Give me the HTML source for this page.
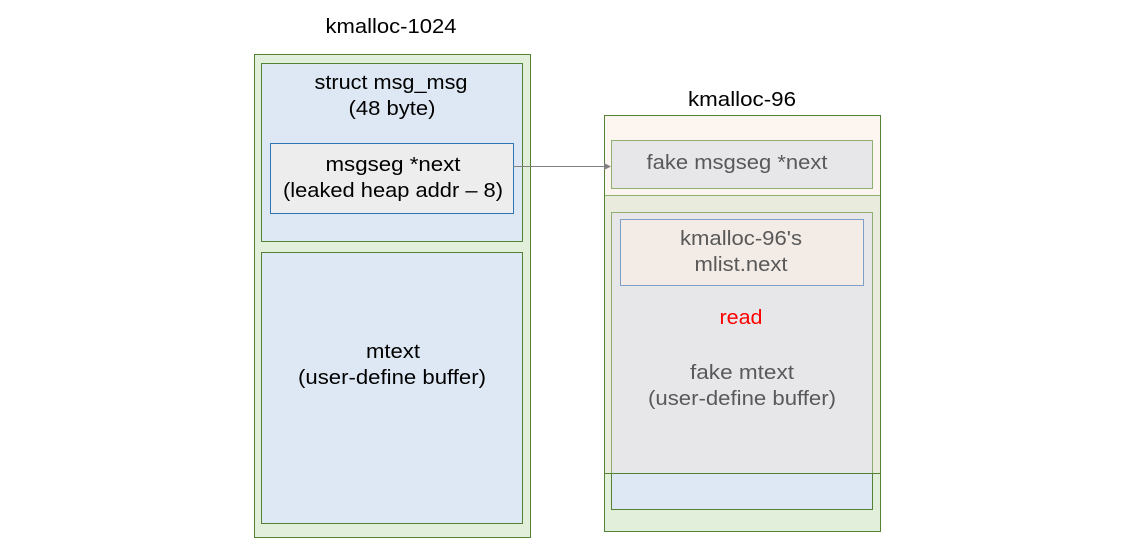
<!DOCTYPE html>
<html><head><style>body{margin:0;background:#fff}svg{display:block}text{font-family:"Liberation Sans","Noto Sans CJK KR",sans-serif;font-size:20px;text-anchor:middle}</style></head><body>
<svg width="1132" height="554" xmlns="http://www.w3.org/2000/svg">
<rect width="1132" height="554" fill="#fff"/>
<text x="391" y="33" fill="#000" textLength="131" lengthAdjust="spacingAndGlyphs">kmalloc-1024</text>
<rect x="254.5" y="54.5" width="276" height="483" fill="#e2efda" stroke="#548235"/>
<rect x="261.5" y="63.5" width="261" height="178" fill="#dee8f4" stroke="#548235"/>
<text x="391" y="89" fill="#000" textLength="153" lengthAdjust="spacingAndGlyphs">struct msg_msg</text>
<text x="392" y="115" fill="#000" textLength="87" lengthAdjust="spacingAndGlyphs">(48 byte)</text>
<rect x="270.5" y="143.5" width="243" height="70" fill="#ededed" stroke="#2e75b6"/>
<text x="393" y="171" fill="#000" textLength="135" lengthAdjust="spacingAndGlyphs">msgseg *next</text>
<text x="393" y="197" fill="#000" textLength="220" lengthAdjust="spacingAndGlyphs">(leaked heap addr – 8)</text>
<rect x="261.5" y="252.5" width="261" height="271" fill="#dee8f4" stroke="#548235"/>
<text x="393" y="358" fill="#000" textLength="54" lengthAdjust="spacingAndGlyphs">mtext</text>
<text x="392" y="384" fill="#000" textLength="188" lengthAdjust="spacingAndGlyphs">(user-define buffer)</text>

<text x="742" y="106" fill="#000" textLength="108" lengthAdjust="spacingAndGlyphs">kmalloc-96</text>
<rect x="604.5" y="115.5" width="276" height="416" fill="#e2efda" stroke="#548235"/>
<rect x="605" y="116" width="275" height="79" fill="#fdf6f0"/>
<rect x="605" y="196" width="275" height="277" fill="#e9ebdc"/>
<line x1="605" y1="195.5" x2="880" y2="195.5" stroke="#8faf70"/>
<rect x="611.5" y="140.5" width="261" height="48" fill="#e7e7ea" stroke="#8faf70"/>
<text x="737" y="169" fill="#595959" textLength="181" lengthAdjust="spacingAndGlyphs">fake msgseg *next</text>
<rect x="611.5" y="212.5" width="261" height="297" fill="#dee8f4" stroke="#548235"/>
<rect x="612" y="213" width="260" height="260" fill="#e7e7ea"/>
<line x1="611.5" y1="213" x2="611.5" y2="473" stroke="#8faf70"/>
<line x1="872.5" y1="213" x2="872.5" y2="473" stroke="#8faf70"/>
<line x1="611" y1="212.5" x2="873" y2="212.5" stroke="#8faf70"/>
<line x1="604" y1="473.5" x2="880" y2="473.5" stroke="#548235"/>
<rect x="620.5" y="219.5" width="243" height="66" fill="#f2ebe6" stroke="#7f9fc6"/>
<text x="741" y="245" fill="#595959" textLength="122" lengthAdjust="spacingAndGlyphs">kmalloc-96's</text>
<text x="741" y="271" fill="#595959" textLength="93" lengthAdjust="spacingAndGlyphs">mlist.next</text>
<text x="741" y="324" fill="#ff0000" textLength="43" lengthAdjust="spacingAndGlyphs">read</text>
<text x="742" y="379" fill="#595959" textLength="104" lengthAdjust="spacingAndGlyphs">fake mtext</text>
<text x="742" y="405" fill="#595959" textLength="188" lengthAdjust="spacingAndGlyphs">(user-define buffer)</text>

<line x1="513" y1="166.5" x2="606" y2="166.5" stroke="#808080"/>
<polygon points="611,166.5 604,163 604,170" fill="#808080"/>
</svg>
</body></html>
